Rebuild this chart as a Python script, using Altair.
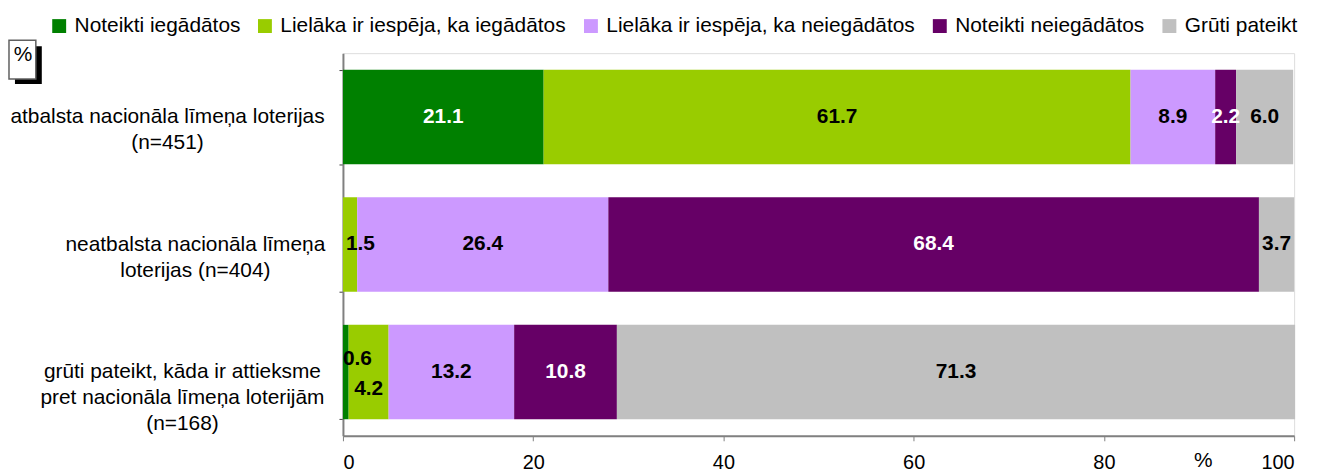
import altair as alt
import pandas as pd

rows = [
    "atbalsta nacionāla līmeņa loterijas|(n=451)",
    "neatbalsta nacionāla līmeņa|loterijas (n=404)",
    "grūti pateikt, kāda ir attieksme|pret nacionāla līmeņa loterijām|(n=168)",
]
cats = [
    "Noteikti iegādātos",
    "Lielāka ir iespēja, ka iegādātos",
    "Lielāka ir iespēja, ka neiegādātos",
    "Noteikti neiegādātos",
    "Grūti pateikt",
]
colors = ["#008000", "#99CC00", "#CC99FF", "#660066", "#C0C0C0"]
vals_row1 = [21.1, 61.7, 8.9, 2.2, 6.0]
vals_row2 = [0.0, 1.5, 26.4, 68.4, 3.7]
vals_row3 = [0.6, 4.2, 13.2, 10.8, 71.3]

recs = []
for r, vals in zip(rows, [vals_row1, vals_row2, vals_row3]):
    for i, (c, v) in enumerate(zip(cats, vals)):
        recs.append({"row": r, "cat": c, "value": v, "ord": i})
df = pd.DataFrame(recs)

FONT = "Liberation Sans"

base = alt.Chart(df).transform_window(
    end="sum(value)", sort=[alt.SortField("ord")], groupby=["row"], frame=[None, 0]
).transform_calculate(
    start="datum.end - datum.value", mid="datum.end - datum.value / 2"
)

pad_expr = (
    f"datum.value == '{rows[0]}' ? 173 : (datum.value == '{rows[1]}' ? 145 : 158)"
)

yenc = alt.Y(
    "row:N",
    sort=rows,
    scale=alt.Scale(paddingInner=0.26, paddingOuter=0.13),
    axis=alt.Axis(
        title=None,
        labelExpr="split(datum.label, '|')",
        labelAlign="center",
        labelBaseline="middle",
        labelFont=FONT,
        labelFontSize=21,
        labelColor="black",
        labelLineHeight=26,
        labelLimit=0,
        labelPadding={"expr": pad_expr},
        tickBand="extent",
        tickSize=4,
        tickColor="#404040",
        domainColor="#808080",
        domainWidth=2,
        grid=False,
    ),
)

xscale = alt.Scale(domain=[0, 100], nice=False)

bars = base.mark_bar().encode(
    x=alt.X(
        "start:Q",
        scale=xscale,
        axis=alt.Axis(
            values=[0, 20, 40, 60, 80, 100],
            title="%",
            titleX=865,
            titleY=14,
            titleAlign="center",
            titleBaseline="top",
            titleFont=FONT,
            titleFontSize=21,
            titleFontWeight="normal",
            titleColor="black",
            labelFont=FONT,
            labelFontSize=20,
            labelColor="black",
            labelPadding=12,
            tickSize=5,
            tickColor="#808080",
            domainColor="#808080",
            domainWidth=2,
            grid=False,
        ),
    ),
    x2="end:Q",
    y=yenc,
    color=alt.Color(
        "cat:N",
        scale=alt.Scale(domain=cats, range=colors),
        legend=alt.Legend(
            title=None,
            orient="none",
            legendX=-296,
            legendY=-38,
            direction="horizontal",
            symbolType="square",
            symbolSize=196,
            symbolStrokeWidth=0,
            symbolOpacity=1,
            labelFont=FONT,
            labelFontSize=21,
            labelColor="black",
            labelLimit=0,
            labelOffset=5,
            columnPadding=14,
            padding=0,
        ),
    ),
    order=alt.Order("ord:Q"),
)

txtcolor = alt.condition(
    "datum.cat == 'Noteikti iegādātos' || datum.cat == 'Noteikti neiegādātos'",
    alt.value("white"),
    alt.value("black"),
)

def tx(**kw):
    return dict(font=FONT, fontSize=21, fontWeight="bold", baseline="middle", **kw)

labels_main = base.transform_filter(
    f"datum.value >= 2 && !(datum.row == '{rows[2]}' && datum.ord == 1)"
).mark_text(**tx(align="center")).encode(
    x=alt.X("mid:Q", scale=xscale), y=alt.Y("row:N", sort=rows),
    text=alt.Text("value:Q", format=".1f"), color=txtcolor,
)
labels_small_mid = base.transform_filter(
    f"datum.value > 0 && datum.value < 2 && datum.row == '{rows[1]}'"
).mark_text(**tx(align="left", dx=3)).encode(
    x=alt.X("start:Q", scale=xscale), y=alt.Y("row:N", sort=rows),
    text=alt.Text("value:Q", format=".1f"), color=alt.value("black"),
)
labels_small_up = base.transform_filter(
    f"datum.value > 0 && datum.value < 2 && datum.row == '{rows[2]}'"
).mark_text(**tx(align="left", dx=0, dy=-13)).encode(
    x=alt.X("start:Q", scale=xscale), y=alt.Y("row:N", sort=rows),
    text=alt.Text("value:Q", format=".1f"), color=alt.value("black"),
)
labels_small_down = base.transform_filter(
    f"datum.row == '{rows[2]}' && datum.ord == 1"
).mark_text(**tx(align="center", dy=17)).encode(
    x=alt.X("mid:Q", scale=xscale), y=alt.Y("row:N", sort=rows),
    text=alt.Text("value:Q", format=".1f"), color=alt.value("black"),
)

unit = alt.Chart(pd.DataFrame({"t": ["%"]}))
shadow = unit.mark_rect(color="black").encode(
    x=alt.value(-330), x2=alt.value(-303), y=alt.value(-7), y2=alt.value(31)
)
box = unit.mark_rect(fill="white", stroke="#606060", strokeWidth=1.5).encode(
    x=alt.value(-336), x2=alt.value(-309), y=alt.value(-13), y2=alt.value(26)
)
boxtxt = unit.mark_text(font=FONT, fontSize=21, color="black", baseline="middle", align="center").encode(
    x=alt.value(-322), y=alt.value(2), text="t:N"
)

chart = alt.layer(
    bars, labels_main, labels_small_mid, labels_small_up, labels_small_down, shadow, box, boxtxt
).properties(
    width=957,
    height=385,
    autosize=alt.AutoSizeParams(type="none"),
    padding={"left": 337, "top": 44, "right": 21, "bottom": 39},
).configure_view(stroke=None).configure(background="white")

chart.save("out.html", embed_options={"renderer": "svg", "actions": False})
